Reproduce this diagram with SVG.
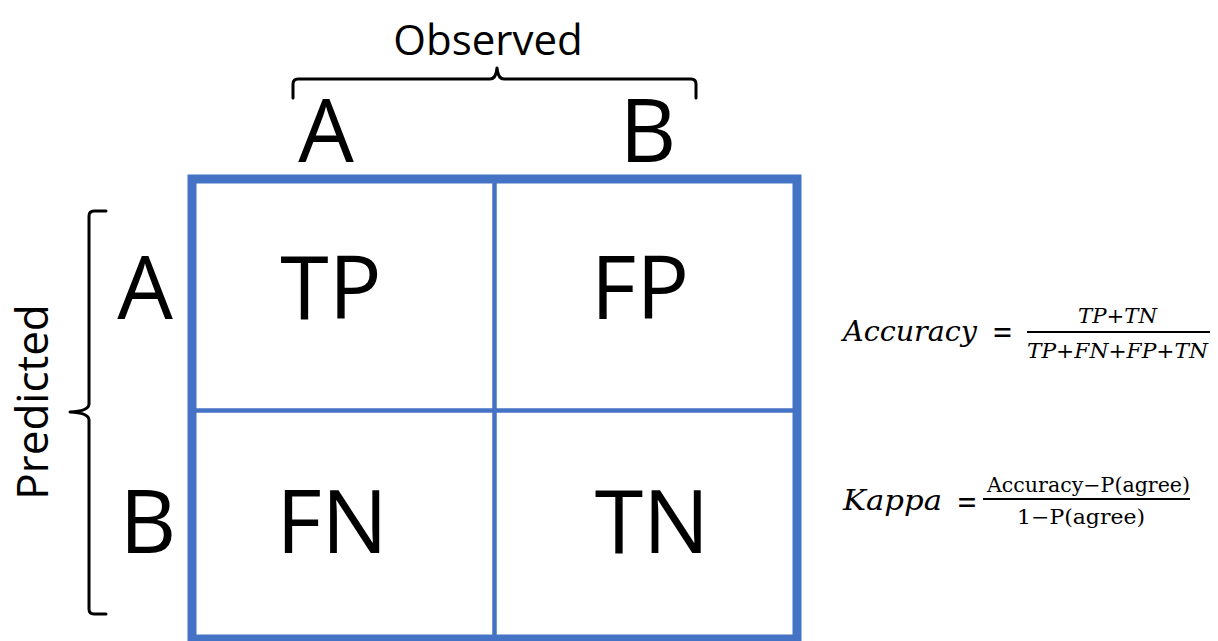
<svg xmlns="http://www.w3.org/2000/svg" width="1218" height="641" viewBox="0 0 1218 641">
<style>
.lbl{font-family:"Open Sans","Liberation Sans",sans-serif;fill:#000;text-anchor:middle}
.cell{font-size:88px}
.hdr{font-size:88px}
.grid{fill:none;stroke:#4472C4}
.brace{fill:none;stroke:#000;stroke-width:3;stroke-linecap:round;stroke-linejoin:round}
.math{font-family:"DejaVu Serif","Liberation Serif",serif;fill:#000}
.it{font-style:italic}
.frac{stroke:#000;stroke-width:1.8}
</style>
<rect width="1218" height="641" fill="#fff"/>
<g id="matrix">
  <rect class="grid" x="192" y="179" width="605" height="460" stroke-width="9"/>
  <line class="grid" x1="494.5" y1="179" x2="494.5" y2="639" stroke-width="4.5"/>
  <line class="grid" x1="192" y1="410.5" x2="797" y2="410.5" stroke-width="4.5"/>
</g>
<g id="cell-tp"><text class="lbl cell" x="331" y="319">TP</text></g>
<g id="cell-fp"><text class="lbl cell" x="640" y="319">FP</text></g>
<g id="cell-fn"><text class="lbl cell" x="332" y="553">FN</text></g>
<g id="cell-tn"><text class="lbl cell" x="652" y="553">TN</text></g>
<g id="col-a"><text class="lbl hdr" x="326" y="162">A</text></g>
<g id="col-b"><text class="lbl hdr" x="648" y="162">B</text></g>
<g id="row-a"><text class="lbl hdr" x="145" y="319">A</text></g>
<g id="row-b"><text class="lbl hdr" x="148" y="553">B</text></g>
<g id="observed">
  <text class="lbl" x="488" y="55" font-size="42">Observed</text>
  <path class="brace" d="M293,98 L293,84 Q293,79 298,79 L490,79 Q496,79 497,68 Q498,79 504,79 L691,79 Q696,79 696,84 L696,98"/>
</g>
<g id="predicted">
  <text class="lbl" transform="translate(48,402) rotate(-90)" x="0" y="0" font-size="44">Predicted</text>
  <path class="brace" d="M106,211 L94,211 Q89,211 89,216 L89,404 Q89,411 70,412 Q89,413 89,420 L89,609 Q89,614 94,614 L106,614"/>
</g>
<g id="accuracy">
  <text class="math it" x="843" y="341" font-size="27" textLength="134" lengthAdjust="spacingAndGlyphs">Accuracy</text>
  <text class="math" x="1002.5" y="343" font-size="32" text-anchor="middle" textLength="21" lengthAdjust="spacingAndGlyphs">=</text>
  <text class="math it" x="1078" y="323" font-size="20" textLength="79" lengthAdjust="spacingAndGlyphs">TP+TN</text>
  <line class="frac" x1="1027" y1="332" x2="1210" y2="332"/>
  <text class="math it" x="1027" y="358" font-size="20" textLength="181" lengthAdjust="spacingAndGlyphs">TP+FN+FP+TN</text>
</g>
<g id="kappa">
  <text class="math it" x="843" y="510" font-size="27" textLength="99" lengthAdjust="spacingAndGlyphs">Kappa</text>
  <text class="math" x="967" y="513" font-size="32" text-anchor="middle" textLength="21" lengthAdjust="spacingAndGlyphs">=</text>
  <text class="math" x="987" y="492" font-size="20" textLength="203" lengthAdjust="spacingAndGlyphs">Accuracy−P(agree)</text>
  <line class="frac" x1="983" y1="499" x2="1190" y2="499"/>
  <text class="math" x="1017" y="524" font-size="20" textLength="128" lengthAdjust="spacingAndGlyphs">1−P(agree)</text>
</g>
</svg>
